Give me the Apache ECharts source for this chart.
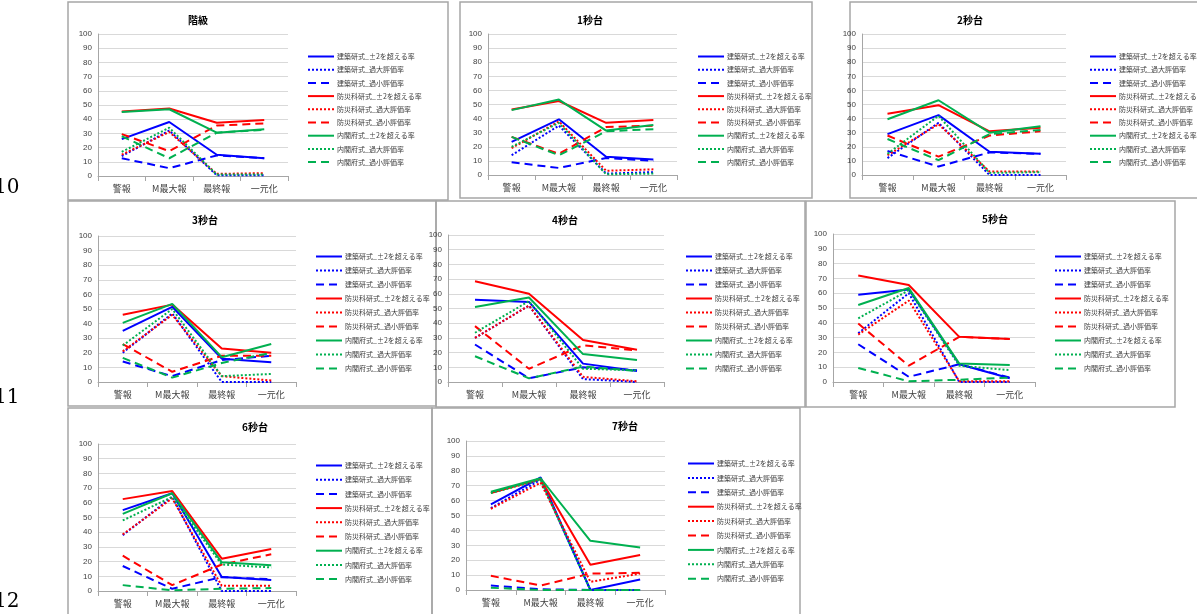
<!DOCTYPE html>
<html lang="ja">
<head>
<meta charset="UTF-8">
<title>評価率</title>
<script src="https://cdn.jsdelivr.net/npm/echarts@6/dist/echarts.min.js"></script>
<style>
  body { margin: 0; padding: 0; overflow: hidden; background: #fff; }
  #main { width: 1197px; height: 614px; }
</style>
</head>
<body>
<div id="main"></div>
<script>
var categories = ['警報', 'M最大報', '最終報', '一元化'];
var seriesNames = [
  '建築研式_±2を超える率', '建築研式_過大評価率', '建築研式_過小評価率',
  '防災科研式_±2を超える率', '防災科研式_過大評価率', '防災科研式_過小評価率',
  '内閣府式_±2を超える率', '内閣府式_過大評価率', '内閣府式_過小評価率'
];
var panelTitles = ['階級', '1秒台', '2秒台', '3秒台', '4秒台', '5秒台', '6秒台', '7秒台'];

// values per panel, in seriesNames order
var kaikyu = [
  [26, 38, 15, 12.5], [14, 32, 0.5, 0.5], [12.5, 5.5, 14.5, 12.5],
  [45.5, 47.5, 37.5, 39.5], [15, 31, 1.5, 2], [29.5, 17.5, 35.5, 37],
  [45, 47, 30.5, 33], [17, 34, 1, 1], [28, 12.5, 30.5, 32.5]
];
var sec1 = [
  [23.5, 39.5, 13, 11], [14, 35, 1, 2], [9, 5, 12, 10],
  [46.5, 52.5, 37, 39], [19, 38, 3, 4], [27, 15, 34, 35],
  [46, 53.5, 31.5, 35.5], [20, 37, 0.5, 1], [27, 14, 31, 32.5]
];
var sec2 = [
  [29, 42.5, 16.5, 15], [12, 37, 0, 0], [17, 6, 16, 15],
  [43.5, 49.5, 31, 33.5], [14, 36, 2.5, 2.5], [28, 13, 28, 31],
  [39.5, 53, 30, 34.5], [15, 42, 1.5, 2], [25.5, 10.5, 29, 32]
];
var sec3 = [
  [35, 51.5, 16, 13.5], [20, 47, 0, 0], [14, 4, 15, 18],
  [46, 53, 23, 20], [21, 46, 4, 1], [26, 7, 18, 18],
  [40.5, 53.5, 17, 26], [25, 50, 4, 5.5], [16.5, 3, 13, 20]
];
var sec4 = [
  [56, 54.5, 12.5, 7.5], [30, 52, 2, 0], [25.5, 2.5, 10, 8],
  [68.5, 60, 28.5, 22], [30, 52, 3.5, 0.5], [38, 9, 25, 21.5],
  [51, 57.5, 19, 15], [33.5, 55, 9, 8], [17.5, 2.5, 10.5, 7.5]
];
var sec5 = [
  [59, 62.5, 12, 2.5], [33, 60, 0, 0], [25.5, 3.5, 12, 3],
  [72, 65.5, 30.5, 29], [32, 55, 0.5, 0.5], [39.5, 11, 30.5, 29],
  [52, 63.5, 12.5, 11.5], [43, 62, 11, 8], [9.5, 0.5, 1.5, 3]
];
var sec6 = [
  [55, 66.5, 9.5, 7.5], [38, 64, 0, 0], [17, 1.5, 9.5, 8],
  [62.5, 68, 22, 28.5], [38.5, 63, 3.5, 3.5], [24, 4, 18, 25],
  [52.5, 66.5, 19.5, 17.5], [48, 64, 18, 16], [4, 0.5, 1.5, 2]
];
var sec7 = [
  [57.5, 75.5, 0, 7], [55, 74, 0, 0], [3, 0.5, 0, 0],
  [65, 74.5, 17, 23.5], [54.5, 72, 5.5, 11], [9.5, 3, 11, 11.5],
  [66, 75, 33, 28.5], [65, 74, 0, 0], [1.5, 0, 0, 0]
];
var panelData = [kaikyu, sec1, sec2, sec3, sec4, sec5, sec6, sec7];
var yTicks = [0, 10, 20, 30, 40, 50, 60, 70, 80, 90, 100];

// layout: box [x, y, w, h], plot [left, top, width, height], legend [left, top, gap], title centre
var layout = [
  { box: [68, 2, 380, 198], plot: [98, 34, 190, 142], leg: [302, 48, 6.2], tx: 193, ty: 10 },
  { box: [460, 2, 352, 196], plot: [488, 34, 189, 141], leg: [692, 48, 6.2], tx: 585, ty: 10 },
  { box: [850, 2, 360, 196], plot: [862, 34, 204, 141], leg: [1084, 48, 6.2], tx: 965, ty: 10 },
  { box: [68, 201, 368, 205], plot: [98, 236, 198, 146], leg: [310, 248, 7], tx: 200, ty: 210 },
  { box: [436, 201, 369, 206], plot: [448, 235, 216, 147], leg: [680, 248, 7], tx: 560, ty: 210 },
  { box: [806, 201, 369, 206], plot: [833, 234, 202, 148], leg: [1049, 248, 7], tx: 990, ty: 209 },
  { box: [68, 408, 364, 210], plot: [98, 444, 198, 147], leg: [310, 457, 7.2], tx: 250, ty: 417 },
  { box: [432, 408, 368, 210], plot: [466, 441, 199, 149], leg: [682, 455, 7.4], tx: 620, ty: 416 }
];

var colors = ['#0000ff', '#ff0000', '#00b050'];
var dashTypes = ['solid', [2, 2], [8, 5]];

var app = echarts.init(document.getElementById('main'));
var grids = [], xAxes = [], yAxes = [], titles = [], legends = [], series = [], graphics = [];

layout.forEach(function (L, p) {
  graphics.push({
    type: 'rect', shape: { x: L.box[0], y: L.box[1], width: L.box[2], height: L.box[3] },
    style: { fill: 'none', stroke: '#a6a6a6', lineWidth: 1.5 }, z: -1
  });
  grids.push({ left: L.plot[0], top: L.plot[1], width: L.plot[2], height: L.plot[3] });
  xAxes.push({
    type: 'category', gridIndex: p, data: categories, boundaryGap: true,
    axisLine: { lineStyle: { color: '#a6a6a6' } },
    axisTick: { show: true, alignWithLabel: false, lineStyle: { color: '#a6a6a6' } },
    axisLabel: { fontSize: 9, color: '#404040', margin: 8, fontFamily: 'Noto Sans CJK JP' }
  });
  yAxes.push({
    type: 'value', gridIndex: p, min: 0, max: 100, interval: 10,
    axisLine: { show: true, lineStyle: { color: '#a6a6a6' } },
    axisTick: { show: false },
    splitLine: { lineStyle: { color: '#d9d9d9' } },
    axisLabel: { fontSize: 8, color: '#404040', margin: 6,
      formatter: function (v) { return yTicks.indexOf(v) >= 0 ? String(v) : ''; } }
  });
  titles.push({
    text: panelTitles[p], left: L.tx, top: L.ty, textAlign: 'center',
    textStyle: { fontSize: 10, fontWeight: 'bold', color: '#000', fontFamily: 'Noto Sans CJK JP' }
  });
  legends.push({
    orient: 'vertical', left: L.leg[0], top: L.leg[1], itemGap: L.leg[2],
    itemWidth: 26, itemHeight: 8, data: seriesNames, selectedMode: false,
    itemStyle: { opacity: 0, borderWidth: 0 },
    textStyle: { fontSize: 7, color: '#404040', fontFamily: 'Noto Sans CJK JP', padding: [0, 0, 0, -2] }
  });
  panelData[p].forEach(function (vals, s) {
    var c = colors[Math.floor(s / 3)];
    series.push({
      name: seriesNames[s], type: 'line', xAxisIndex: p, yAxisIndex: p,
      data: vals, symbol: 'none', silent: true,
      lineStyle: { color: c, width: 2, type: dashTypes[s % 3] },
      itemStyle: { color: c }
    });
  });
});

['10', '11', '12'].forEach(function (t, i) {
  graphics.push({
    type: 'text', left: -6, top: [178, 388, 592][i],
    style: { text: t, fontSize: 20, fill: '#000', fontFamily: 'DejaVu Serif' }
  });
});

var option = {
  animation: false,
  title: titles, grid: grids, xAxis: xAxes, yAxis: yAxes,
  legend: legends, series: series, graphic: graphics
};
app.setOption(option);
</script>
</body>
</html>
